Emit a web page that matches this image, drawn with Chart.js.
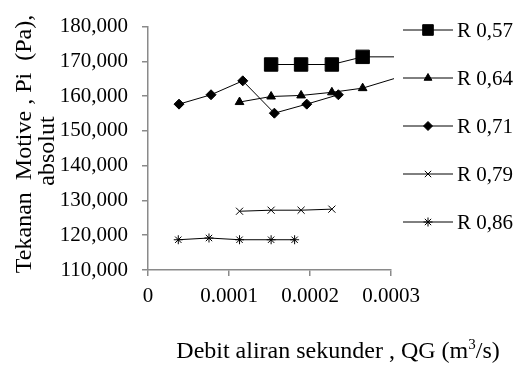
<!DOCTYPE html>
<html>
<head>
<meta charset="utf-8">
<script src="https://cdn.jsdelivr.net/npm/chart.js@4.4.1/dist/chart.umd.min.js"></script>
<style>
  html, body { margin: 0; padding: 0; background: #fff; }
  #wrap { width: 518px; height: 365px; }
</style>
</head>
<body>
<div id="wrap"><canvas id="chart" width="518" height="365"></canvas></div>
<script>
// values (QG in m3/s, Pi in Pa)
const seriesNames = ['R 0,57', 'R 0,64', 'R 0,71', 'R 0,79', 'R 0,86'];

const qg057 = [0.000152, 0.000189, 0.000227, 0.000265, 0.000340];
const pi057 = [169100, 169100, 169100, 171300, 171300];

const qg064 = [0.000113, 0.000152, 0.000189, 0.000227, 0.000265, 0.000340];
const pi064 = [158300, 159900, 160200, 161100, 162300, 167600];

const qg071 = [0.0000383, 0.0000778, 0.000117, 0.000156, 0.000196, 0.000235];
const pi071 = [157700, 160400, 164400, 155100, 157700, 160400];

const qg079 = [0.000113, 0.000152, 0.000189, 0.000227];
const pi079 = [126900, 127200, 127200, 127500];

const qg086 = [0.0000374, 0.0000753, 0.000113, 0.000152, 0.000181];
const pi086 = [118700, 119200, 118700, 118700, 118700];

const yTicks = [110000, 120000, 130000, 140000, 150000, 160000, 170000, 180000];
const xTicks = [0, 0.0001, 0.0002, 0.0003];

const FONT = '"Liberation Serif", "Times New Roman", serif';
const AXIS = '#8a8a8a';

function pts(xs, ys) {
    return xs.map((x, i) => ({ x: x, y: ys[i] }));
}

const markers = [
    { style: 'rect', r: 9.5, legendR: 7.5 },
    { style: 'triangle', r: 5, legendR: 4.5 },
    { style: 'rectRot', r: 5, legendR: 4.5 },
    { style: 'crossRot', r: 5, legendR: 4.5 },
    { style: 'star', r: 4.5, legendR: 4.5 }
];

const allX = [qg057, qg064, qg071, qg079, qg086];
const allY = [pi057, pi064, pi071, pi079, pi086];

const datasets = seriesNames.map((name, i) => ({
    label: name,
    data: pts(allX[i], allY[i]),
    showLine: true,
    borderColor: '#000',
    backgroundColor: '#000',
    borderWidth: 1,
    pointStyle: markers[i].style,
    pointRadius: markers[i].r,
    pointHoverRadius: markers[i].r,
    pointBorderColor: '#000',
    pointBackgroundColor: '#000',
    pointBorderWidth: 1,
    clip: { left: 0, top: 0, right: 3, bottom: 0 }
}));

// legend + axis titles drawn by hand to match the original layout
const extras = {
    id: 'extras',
    afterDraw(chart) {
        const ctx = chart.ctx;
        ctx.save();
        ctx.fillStyle = '#000';
        ctx.strokeStyle = '#000';

        // legend
        ctx.font = '21px ' + FONT;
        ctx.textBaseline = 'middle';
        ctx.textAlign = 'left';
        seriesNames.forEach((name, i) => {
            const y = 30 + i * 48;
            ctx.lineWidth = 1;
            ctx.beginPath();
            ctx.moveTo(403, y);
            ctx.lineTo(453, y);
            ctx.stroke();
            Chart.helpers.drawPoint(ctx, {
                pointStyle: markers[i].style,
                radius: markers[i].legendR,
                rotation: 0,
                borderWidth: 1
            }, 428, y);
            ctx.fillText(name, 457, y + 1);
        });

        // y axis title (two lines)
        ctx.font = '24px ' + FONT;
        ctx.textBaseline = 'alphabetic';
        ctx.textAlign = 'center';
        ctx.save();
        ctx.translate(31, 144);
        ctx.rotate(-Math.PI / 2);
        ctx.fillText('Tekanan  Motive , Pi  (Pa),', 0, 0);
        ctx.restore();
        ctx.save();
        ctx.translate(54, 151);
        ctx.rotate(-Math.PI / 2);
        ctx.fillText('absolut', 0, 0);
        ctx.restore();

        // x axis title with superscript
        ctx.textAlign = 'left';
        const a = 'Debit aliran sekunder , QG (m';
        const b = '/s)';
        ctx.font = '24px ' + FONT;
        const wa = ctx.measureText(a).width;
        const wb = ctx.measureText(b).width;
        ctx.font = '15px ' + FONT;
        const ws = ctx.measureText('3').width;
        const total = wa + ws + wb;
        const x0 = 338 - total / 2;
        const base = 358;
        ctx.font = '24px ' + FONT;
        ctx.fillText(a, x0, base);
        ctx.font = '15px ' + FONT;
        ctx.fillText('3', x0 + wa, base - 9);
        ctx.font = '24px ' + FONT;
        ctx.fillText(b, x0 + wa + ws, base);
        ctx.restore();
    }
};

new Chart(document.getElementById('chart').getContext('2d'), {
    type: 'scatter',
    data: { datasets: datasets },
    options: {
        responsive: false,
        animation: false,
        layout: { padding: { left: 0, top: 19, right: 127, bottom: 0 } },
        plugins: {
            legend: { display: false },
            tooltip: { enabled: false }
        },
        scales: {
            x: {
                type: 'linear',
                min: 0,
                max: 0.0003,
                afterFit: (scale) => { scale.height = 95; },
                afterBuildTicks: (scale) => { scale.ticks = xTicks.map(v => ({ value: v })); },
                border: { display: true, color: AXIS, width: 1.5 },
                grid: { display: true, drawOnChartArea: false, drawTicks: true, tickLength: 6, color: AXIS, lineWidth: 1.5 },
                ticks: {
                    color: '#000',
                    font: { family: FONT, size: 21 },
                    padding: 8,
                    maxRotation: 0,
                    callback: (v) => v === 0 ? '0' : Number(v).toFixed(4)
                }
            },
            y: {
                type: 'linear',
                min: 110000,
                max: 180000,
                afterFit: (scale) => { scale.width = 148; },
                afterBuildTicks: (scale) => { scale.ticks = yTicks.map(v => ({ value: v })); },
                border: { display: true, color: AXIS, width: 1.5 },
                grid: { display: true, drawOnChartArea: false, drawTicks: true, tickLength: 6, color: AXIS, lineWidth: 1.5 },
                ticks: {
                    color: '#000',
                    font: { family: FONT, size: 21 },
                    padding: 14,
                    callback: (v) => Number(v).toLocaleString('en-US')
                }
            }
        }
    },
    plugins: [extras]
});
</script>
</body>
</html>
